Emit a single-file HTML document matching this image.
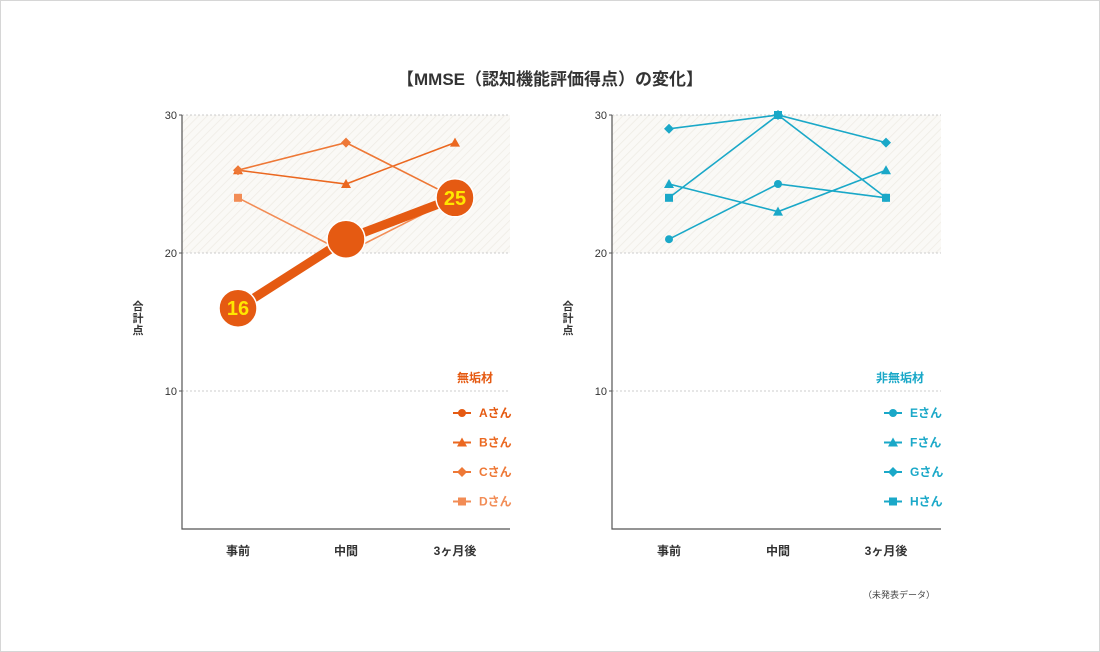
<!DOCTYPE html>
<html><head><meta charset="utf-8"><style>
body{margin:0;background:#fff;}
#wrap{position:relative;width:1100px;height:652px;overflow:hidden;}
svg text{font-family:"Liberation Sans","Noto Sans CJK JP",sans-serif;}
</style></head><body>
<div id="wrap">
<svg id="svg" width="1100" height="652" xmlns="http://www.w3.org/2000/svg">
<defs>
<pattern id="hatch" width="6" height="6" patternUnits="userSpaceOnUse" patternTransform="rotate(45)">
<rect width="6" height="6" fill="#faf9f6"/><line x1="0" y1="0" x2="0" y2="6" stroke="#eeebe4" stroke-width="1.5"/>
</pattern>
</defs>
<rect x="0.5" y="0.5" width="1099" height="651" fill="#fff" stroke="#d6d6d6"/>
<text x="550" y="85" text-anchor="middle" font-size="17" font-weight="bold" fill="#333">【MMSE（認知機能評価得点）の変化】</text>
<text x="935" y="598" text-anchor="end" font-size="9" fill="#444">（未発表データ）</text>
</svg>
</div>
<script>
const categories=["事前","中間","3ヶ月後"];
const yTicks=[10,20,30];
const seriesA=[16,21,24];
const seriesB=[26,25,28];
const seriesC=[26,28,24];
const seriesD=[24,20,24];
const seriesE=[21,25,24];
const seriesF=[25,23,26];
const seriesG=[29,30,28];
const seriesH=[24,30,24];
const labelsA=["16","","25"];
const NS="http://www.w3.org/2000/svg";
const svg=document.getElementById('svg');
function el(tag,attrs,parent){const e=document.createElementNS(NS,tag);for(const k in attrs)e.setAttribute(k,attrs[k]);(parent||svg).appendChild(e);return e;}
function yScale(v){return 529-v*13.8;}
function marker(g,shape,x,y,c,s){
  let m;
  if(shape==='circle')m=el('circle',{cx:x,cy:y,r:s,fill:c},g);
  else if(shape==='tri')m=el('polygon',{points:`${x},${y-s-1} ${x-s-1},${y+s} ${x+s+1},${y+s}`,fill:c},g);
  else if(shape==='diamond')m=el('polygon',{points:`${x},${y-s-1} ${x+s+1},${y} ${x},${y+s+1} ${x-s-1},${y}`,fill:c},g);
  else m=el('rect',{x:x-s,y:y-s,width:2*s,height:2*s,fill:c},g);
  return m;
}
function panel(px,xs,title,titleColor,series){
  const g=el('g',{});
  
  
  const right=xs[2]+55;
  const band=el('rect',{x:px,y:yScale(30),width:right-px,height:yScale(20)-yScale(30),fill:'url(#hatch)'},g);
  
  
  yTicks.forEach(t=>{
    const l=el('line',{x1:px,x2:right,y1:yScale(t),y2:yScale(t),stroke:'#ccc','stroke-dasharray':'2,2'},g);
    
    
    const tx=el('text',{x:px-5,y:yScale(t)+4,'text-anchor':'end','font-size':11,fill:'#333'},g);
    tx.textContent=t;
    
    
    el('line',{x1:px-3,x2:px,y1:yScale(t),y2:yScale(t),stroke:'#555'},g);
  });
  const ax=el('path',{d:`M${px},${yScale(30)} V${yScale(0)} H${right}`,fill:'none',stroke:'#555','stroke-width':1.2},g);
  
  
  const yt=el('text',{x:px-44,y:310,'font-size':11,'font-weight':'bold',fill:'#333','text-anchor':'middle'},g);
  
  
  ['合','計','点'].forEach((ch,i)=>{const ts=el('tspan',{x:px-44,dy:i?12:0},yt);ts.textContent=ch;});
  categories.forEach((c,i)=>{
    const t=el('text',{x:xs[i],y:555,'text-anchor':'middle','font-size':12,'font-weight':'bold',fill:'#333'},g);
    t.textContent=c;
    
    
  });
  const lt=el('text',{x:xs[2]+38,y:382,'text-anchor':'end','font-size':12,'font-weight':'bold',fill:titleColor},g);
  lt.textContent=title;
  
  
  // legend
  series.forEach(s=>{
    const ly=413+s.idx*29.5, lx=xs[2]+7;
    const lg=el('g',{},g);
    
    
    el('line',{x1:lx-9,x2:lx+9,y1:ly,y2:ly,stroke:s.col,'stroke-width':2},lg);
    marker(lg,s.shape,lx,ly,s.col,4);
    const t=el('text',{x:lx+17,y:ly+4,'font-size':12,'font-weight':'bold',fill:s.col},lg);
    t.textContent=s.name+'さん';
  });
  // draw series, big last
  series.slice().sort((a,b)=>(a.big?1:0)-(b.big?1:0)).forEach(s=>{
    const sg=el('g',{},g);
    
    
    const pts=s.vals.map((v,i)=>xs[i]+','+yScale(v)).join(' ');
    el('polyline',{points:pts,fill:'none',stroke:s.col,'stroke-width':s.w||1.6},sg);
    s.vals.forEach((v,i)=>{
      const m=marker(sg,s.shape,xs[i],yScale(v),s.col,s.big?19:4);
      
      
      if(s.big){m.setAttribute('stroke','#fff');m.setAttribute('stroke-width','1.5');}
    });
    if(s.big){s.vals.forEach((v,i)=>{
      if(s.labels[i]){const t=el('text',{x:xs[i],y:yScale(v)+7,'text-anchor':'middle','font-size':20,'font-weight':'bold',fill:'#ffe600'},sg);t.textContent=s.labels[i];
        
        }
    });}
  });
}
panel(182,[238,346,455],'無垢材','#e55a12',[
  {name:'A',idx:0,vals:seriesA,shape:'circle',col:'#e55a12',big:true,w:9,labels:labelsA},
  {name:'B',idx:1,vals:seriesB,shape:'tri',col:'#eb6820'},
  {name:'C',idx:2,vals:seriesC,shape:'diamond',col:'#ee7836'},
  {name:'D',idx:3,vals:seriesD,shape:'rect',col:'#f28c55'}
]);
panel(612,[669,778,886],'非無垢材','#1aa8c8',[
  {name:'E',idx:0,vals:seriesE,shape:'circle',col:'#1aa8c8'},
  {name:'F',idx:1,vals:seriesF,shape:'tri',col:'#1aa8c8'},
  {name:'G',idx:2,vals:seriesG,shape:'diamond',col:'#1aa8c8'},
  {name:'H',idx:3,vals:seriesH,shape:'rect',col:'#1aa8c8'}
]);
</script>
</body></html>
